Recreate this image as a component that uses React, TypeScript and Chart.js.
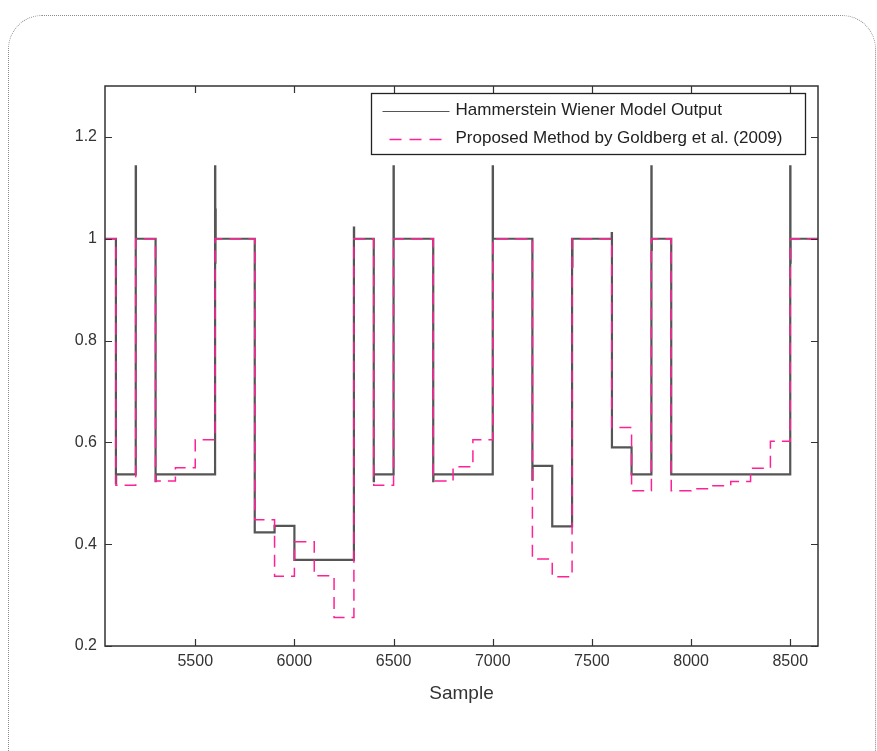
import React, { useEffect, useRef } from 'react';
import { Chart, registerables } from 'chart.js';

Chart.register(...registerables);

// ---- axes ----
const xMin = 5045;
const xMax = 8640;
const yMin = 0.2;
const yMax = 1.3;
const xTickValues = [5500, 6000, 6500, 7000, 7500, 8000, 8500];
const yTickValues = [0.2, 0.4, 0.6, 0.8, 1, 1.2];
const xAxisTitle = 'Sample';
const seriesLabels = [
  'Hammerstein Wiener Model Output',
  'Proposed Method by Goldberg et al. (2009)',
];

// ---- Hammerstein Wiener model output (step levels) ----
const hwStepSample = [5045, 5100, 5200, 5300, 5600, 5800, 5900, 6000, 6300, 6400, 6500, 6700, 7000, 7200, 7300, 7400, 7600, 7700, 7800, 7900, 8500];
const hwLevel = [1.0, 0.537, 1.0, 0.537, 1.0, 0.423, 0.436, 0.369, 1.0, 0.537, 1.0, 0.537, 1.0, 0.554, 0.435, 1.0, 0.59, 0.537, 1.0, 0.537, 1.0];
// transient spikes / under-shoots right at the switching instants
const hwTransientSample = [5100, 5200, 5300, 5600, 5601, 5602, 6300, 6400, 6500, 6700, 7000, 7200, 7400, 7401, 7600, 7800, 7801, 8500, 8501];
const hwTransientValue = [0.52, 1.142, 0.524, 1.142, 0.953, 1.057, 1.022, 0.524, 1.142, 0.524, 1.142, 0.527, 1.0, 0.945, 1.011, 1.142, 0.978, 1.142, 0.953];

// ---- Proposed method by Goldberg et al. (step levels) ----
const pmStepSample = [5045, 5100, 5200, 5300, 5400, 5500, 5600, 5800, 5900, 6000, 6100, 6200, 6300, 6400, 6500, 6700, 6800, 6900, 7000, 7200, 7300, 7400, 7600, 7700, 7800, 7900, 8000, 8100, 8200, 8300, 8400, 8500];
const pmLevel = [1.0, 0.516, 1.0, 0.524, 0.55, 0.605, 1.0, 0.448, 0.337, 0.405, 0.338, 0.256, 1.0, 0.516, 1.0, 0.524, 0.552, 0.605, 1.0, 0.371, 0.336, 1.0, 0.629, 0.505, 1.0, 0.505, 0.509, 0.515, 0.523, 0.549, 0.602, 1.0];

function buildSteps(steps: number[], levels: number[], tS: number[], tV: number[], end: number) {
  const pts: { x: number; y: number }[] = [];
  steps.forEach((s, i) => {
    const next = i + 1 < steps.length ? steps[i + 1] : end;
    let last = s;
    let has = false;
    tS.forEach((t, j) => {
      if (t >= s && t < next && t < s + 10) {
        pts.push({ x: t, y: tV[j] });
        last = t;
        has = true;
      }
    });
    pts.push({ x: has ? last + 1 : s, y: levels[i] });
  });
  pts.push({ x: end, y: levels[levels.length - 1] });
  return pts;
}

const SANS = "'Liberation Sans', Arial, sans-serif";

const framePlugin = {
  id: 'matlabFrame',
  afterDatasetsDraw(chart: any) {
    const { ctx, chartArea: a, scales } = chart;
    ctx.save();
    // box
    ctx.strokeStyle = '#333';
    ctx.lineWidth = 1.5;
    ctx.setLineDash([]);
    ctx.strokeRect(a.left, a.top, a.right - a.left, a.bottom - a.top);
    // inward ticks on all four sides
    const tl = 7;
    ctx.lineWidth = 1.2;
    ctx.beginPath();
    xTickValues.forEach((v) => {
      const px = Math.round(scales.x.getPixelForValue(v)) + 0.5;
      ctx.moveTo(px, a.bottom);
      ctx.lineTo(px, a.bottom - tl);
      ctx.moveTo(px, a.top);
      ctx.lineTo(px, a.top + tl);
    });
    yTickValues.forEach((v) => {
      const py = Math.round(scales.y.getPixelForValue(v)) + 0.5;
      ctx.moveTo(a.left, py);
      ctx.lineTo(a.left + tl, py);
      ctx.moveTo(a.right, py);
      ctx.lineTo(a.right - tl, py);
    });
    ctx.stroke();

    // legend (inside the axes, top-right, boxed)
    const ds = chart.data.datasets;
    ctx.font = `17px ${SANS}`;
    const right = Math.round(a.right - 13) + 0.5;
    const left = Math.round(a.left + 266) + 0.5;
    const top = Math.round(a.top + 7) + 0.5;
    const boxH = 61;
    const textX = left + 84;
    ctx.fillStyle = '#fff';
    ctx.fillRect(left, top, right - left, boxH);
    ctx.strokeStyle = '#222';
    ctx.lineWidth = 1.3;
    ctx.strokeRect(left, top, right - left, boxH);
    const rows = [top + 17, top + 45];
    ds.forEach((d: any, i: number) => {
      const y = Math.round(rows[i]) + 0.5;
      ctx.strokeStyle = d.borderColor;
      ctx.lineWidth = i === 0 ? 1.2 : 1.6;
      ctx.beginPath();
      if (d.borderDash) {
        ctx.setLineDash([12, 8]);
        ctx.moveTo(left + 18, y);
        ctx.lineTo(left + 76, y);
      } else {
        ctx.setLineDash([]);
        ctx.moveTo(left + 11, y);
        ctx.lineTo(left + 78, y);
      }
      ctx.stroke();
      ctx.setLineDash([]);
      ctx.fillStyle = '#222';
      ctx.textBaseline = 'middle';
      ctx.textAlign = 'left';
      ctx.fillText(d.label, textX, rows[i]);
    });
    ctx.restore();
  },
};

export default function App() {
  const ref = useRef<HTMLCanvasElement>(null);
  useEffect(() => {
    const canvas = ref.current!;
    const hwPoints = buildSteps(hwStepSample, hwLevel, hwTransientSample, hwTransientValue, xMax);
    const pmPoints = buildSteps(pmStepSample, pmLevel, [], [], xMax);
    const chart = new Chart(canvas, {
      type: 'line',
      data: {
        datasets: [
          {
            label: seriesLabels[0],
            data: hwPoints,
            borderColor: '#555555',
            borderWidth: 2.2,
            stepped: true,
            pointRadius: 0,
            fill: false,
            order: 2,
          } as any,
          {
            label: seriesLabels[1],
            data: pmPoints,
            borderColor: '#ff2196',
            borderWidth: 1.5,
            borderDash: [12, 7],
            stepped: true,
            pointRadius: 0,
            fill: false,
            order: 1,
          } as any,
        ],
      },
      options: {
        responsive: false,
        animation: false,
        devicePixelRatio: 1,
        events: [],
        layout: { padding: { left: 0, top: 86, right: 59, bottom: 0 } },
        plugins: {
          legend: { display: false },
          tooltip: { enabled: false },
          title: { display: false },
        },
        scales: {
          x: {
            type: 'linear',
            min: xMin,
            max: xMax,
            grid: { display: false, drawTicks: false },
            border: { display: false },
            afterBuildTicks: (s: any) => {
              s.ticks = xTickValues.map((v) => ({ value: v }));
            },
            afterFit: (s: any) => {
              s.height = 105;
            },
            ticks: {
              padding: 6,
              color: '#333',
              maxRotation: 0,
              autoSkip: false,
              font: { family: SANS, size: 16 },
              callback: (v: any) => String(v),
            },
            title: {
              display: true,
              text: xAxisTitle,
              color: '#333',
              font: { family: SANS, size: 19 },
              padding: { top: 0, bottom: 46 },
            },
          },
          y: {
            type: 'linear',
            min: yMin,
            max: yMax,
            grid: { display: false, drawTicks: false },
            border: { display: false },
            afterBuildTicks: (s: any) => {
              s.ticks = yTickValues.map((v) => ({ value: v }));
            },
            afterFit: (s: any) => {
              s.width = 105;
            },
            ticks: {
              padding: 8,
              color: '#333',
              font: { family: SANS, size: 16 },
              callback: (v: any) => String(v),
            },
          },
        },
      } as any,
      plugins: [framePlugin],
    });
    return () => chart.destroy();
  }, []);

  return (
    <div style={{ position: 'absolute', left: 0, top: 0, width: 877, height: 751, overflow: 'hidden', background: '#fff' }}>
      <div
        style={{
          position: 'absolute',
          left: 8,
          top: 15,
          width: 868,
          height: 800,
          border: '1px dotted #8c8c8c',
          borderRadius: 34,
          boxSizing: 'border-box',
        }}
      />
      <canvas ref={ref} width={877} height={751} style={{ position: 'absolute', left: 0, top: 0, width: 877, height: 751 }} />
    </div>
  );
}
